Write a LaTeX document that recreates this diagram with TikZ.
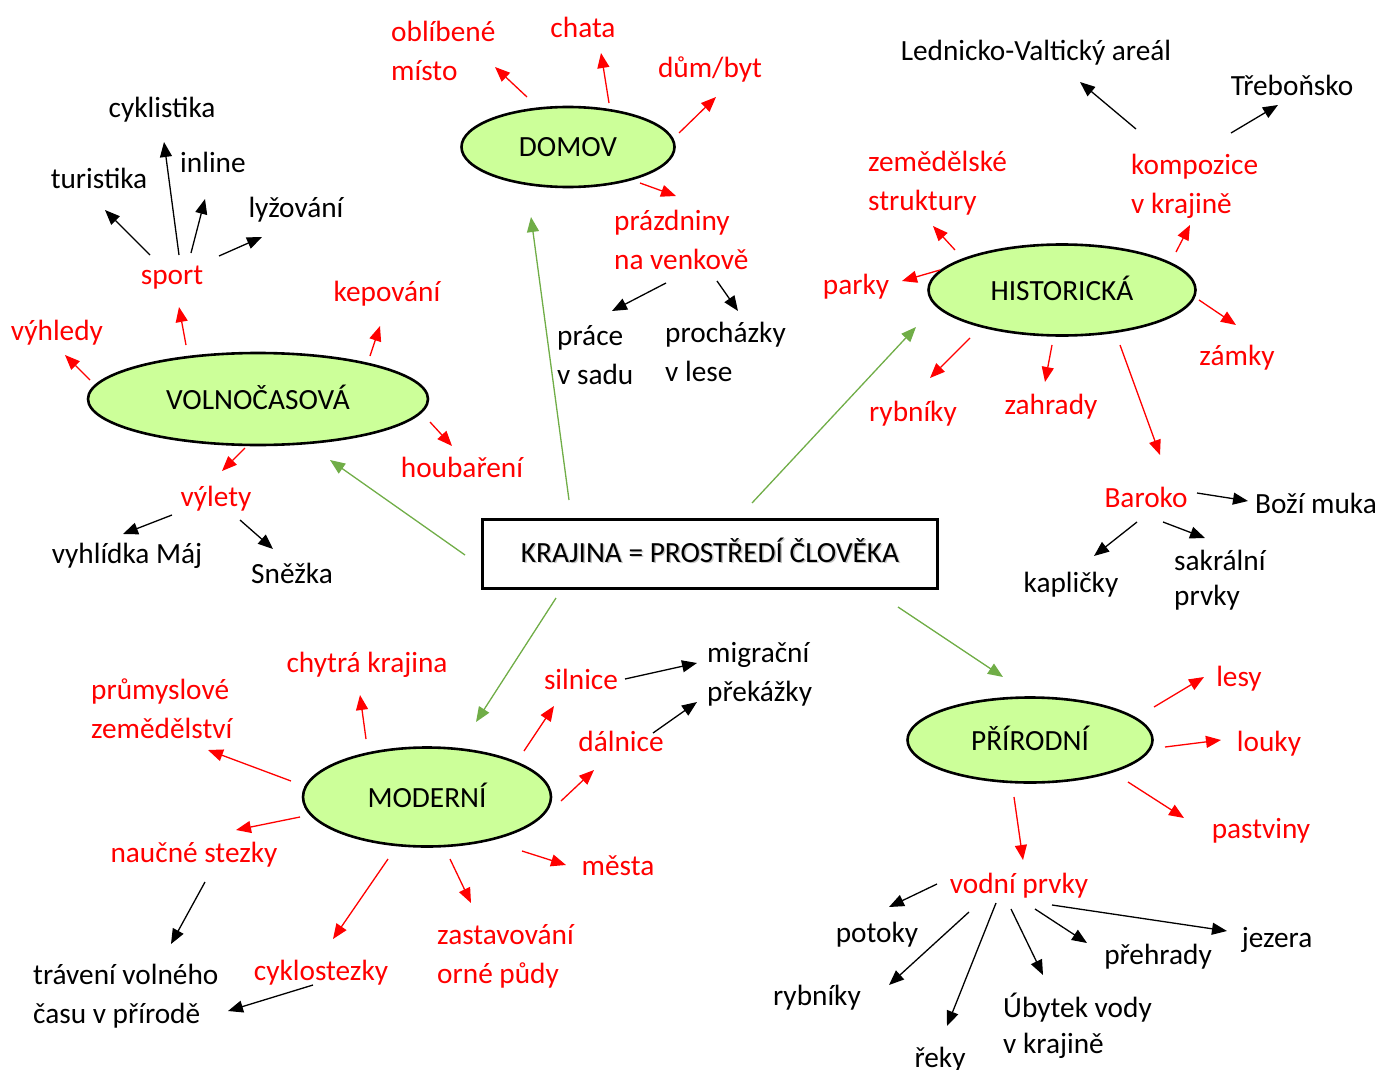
\documentclass[tikz,border=0pt]{standalone}
\usepackage{fontspec}
\setmainfont{Carlito}
\usetikzlibrary{arrows.meta,shapes.geometric,calc}
\definecolor{elfill}{HTML}{CCFF99}
\definecolor{grn}{HTML}{70AD47}
\definecolor{rd}{HTML}{FF0000}
\newcommand\lnk[5]{\draw[#1] ([shift={(#3)}]#2) -- ([shift={(#5)}]#4);}
\begin{document}
\begin{tikzpicture}[x=1pt,y=-1pt,
  every node/.style={font=\fontsize{29.3}{39}\selectfont, inner sep=0pt, text height=23pt, text depth=3pt},
  el/.style={ellipse, draw=black, line width=2.6pt, fill=elfill, minimum width=#1},
  rt/.style={text=rd},
  bt/.style={text=black},
  ml/.style={align=left, anchor=west, text height=, text depth=},
  ra/.style={draw=rd, line width=1.3pt, -{Triangle[length=15pt,width=12pt]}},
  ba/.style={draw=black, line width=1.3pt, -{Triangle[length=15pt,width=12pt]}},
  ga/.style={draw=grn, line width=1.3pt, -{Triangle[length=15pt,width=12pt]}},
]
\useasboundingbox (0,0) rectangle (1381,1070);

% central box
\node[draw=black, line width=2.8pt, minimum width=455pt, minimum height=69pt, text height=, text depth=] (box) at (710,554) {};
\node[text=gray!45] at (711.5,553.5) {KRAJINA = PROSTŘEDÍ ČLOVĚKA};
\node (boxt) at (710,552) {KRAJINA = PROSTŘEDÍ ČLOVĚKA};

% ellipses
\node[el=213pt, minimum height=80pt] (domov) at (568,147) {DOMOV};
\node[el=340pt, minimum height=92pt] (volno) at (258,399) {VOLNOČASOVÁ};
\node[el=267pt, minimum height=91pt] (hist) at (1062,290) {HISTORICKÁ};
\node[el=248pt, minimum height=99pt] (mod) at (427,797) {MODERNÍ};
\node[el=245pt, minimum height=85pt] (prir) at (1030,740) {PŘÍRODNÍ};

% single-line text nodes
\node[rt] (chata) at (583,28) {chata};
\node[rt] (dum) at (710,68) {dům/byt};
\node[bt] (cyk) at (162,108) {cyklistika};
\node[bt] (inline) at (213,162) {inline};
\node[bt] (turist) at (99,178) {turistika};
\node[bt] (lyz) at (296,207) {lyžování};
\node[rt] (sport) at (172,274) {sport};
\node[rt] (kepo) at (387,291) {kepování};
\node[rt] (vyhl) at (57,330) {výhledy};
\node[rt] (houb) at (462,467) {houbaření};
\node[rt] (vylety) at (216,496) {výlety};
\node[bt] (maj) at (127,553) {vyhlídka Máj};
\node[bt] (snez) at (292,573) {Sněžka};
\node[bt] (lva) at (1036,51) {Lednicko-Valtický areál};
\node[bt] (treb) at (1292,86) {Třeboňsko};
\node[rt] (parky) at (856,284) {parky};
\node[rt] (zamky) at (1237,355) {zámky};
\node[rt] (rybh) at (913,411) {rybníky};
\node[rt] (zahr) at (1051,404) {zahrady};
\node[rt] (baroko) at (1146,497) {Baroko};
\node[bt] (bozi) at (1316,503) {Boží muka};
\node[bt] (kapl) at (1071,582) {kapličky};
\node[rt] (chytra) at (367,662) {chytrá krajina};
\node[rt] (silnice) at (581,679) {silnice};
\node[rt] (dalnice) at (621,741) {dálnice};
\node[rt] (mesta) at (618,865) {města};
\node[rt] (naucne) at (194,852) {naučné stezky};
\node[rt] (cykl) at (321,970) {cyklostezky};
\node[rt] (lesy) at (1239,676) {lesy};
\node[rt] (louky) at (1269,741) {louky};
\node[rt] (pastv) at (1261,828) {pastviny};
\node[rt] (vodni) at (1019,883) {vodní prvky};
\node[bt] (potoky) at (877,932) {potoky};
\node[bt] (rybp) at (817,995) {rybníky};
\node[bt] (reky) at (940,1057) {řeky};
\node[bt] (prehr) at (1158,954) {přehrady};
\node[bt] (jezera) at (1277,937) {jezera};

% two-line nodes
\node[rt,ml] (obl) at (391,50.5) {oblíbené\\místo};
\node[rt,ml] (prazd) at (614,239.5) {prázdniny\\na venkově};
\node[bt,ml] (prace) at (557,355.5) {práce\\v sadu};
\node[bt,ml] (proch) at (665,351.5) {procházky\\v lese};
\node[rt,ml] (zem) at (868,183.5) {zemědělské\\struktury};
\node[rt,ml] (komp) at (1131,186) {kompozice\\v krajině};
\node[bt,ml,font=\fontsize{29.3}{35}\selectfont] (sakr) at (1174,580.5) {sakrální\\prvky};
\node[rt,ml] (prum) at (91,708.5) {průmyslové\\zemědělství};
\node[bt,ml] (trav) at (33,996.5) {trávení volného\\času v přírodě};
\node[rt,ml] (zast) at (437,956.5) {zastavování\\orné půdy};
\node[bt,ml] (migr) at (707,674.5) {migrační\\překážky};
\node[bt,ml,font=\fontsize{29.3}{36}\selectfont] (ubyt) at (1003,1026) {Úbytek vody\\v krajině};

% DOMOV
\lnk{ra}{domov.center}{-41,-50}{obl.west}{104,16.5}
\lnk{ra}{domov.center}{41,-44}{chata.center}{18,25}
\lnk{ra}{domov.center}{111,-14}{dum.center}{6,29}
\lnk{ra}{domov.center}{72,36}{prazd.west}{62,-43.5}
\lnk{ba}{prazd.west}{52,43.5}{prace.west}{55,-44.5}
\lnk{ba}{prazd.west}{103,41.5}{proch.west}{73,-40.5}

% green
\lnk{ga}{box.center}{-141,-54}{domov.center}{-37,70}
\lnk{ga}{box.center}{-245,1}{volno.center}{72,61}
\lnk{ga}{box.center}{42,-51}{hist.center}{-146,37}
\lnk{ga}{box.center}{-154,44}{mod.center}{49,-75}
\lnk{ga}{box.center}{188,53}{prir.center}{-27,-63}

% VOLNOCASOVA
\lnk{ra}{volno.center}{-72,-54}{sport.center}{7,33}
\lnk{ba}{sport.center}{-22,-19}{turist.center}{6,32}
\lnk{ba}{sport.center}{7,-19}{cyk.center}{2,34}
\lnk{ba}{sport.center}{19,-21}{inline.center}{-8,37}
\lnk{ba}{sport.center}{47,-18}{lyz.center}{-34,30}
\lnk{ra}{volno.center}{-168,-19}{vyhl.center}{8,25}
\lnk{ra}{volno.center}{112,-43}{kepo.center}{-7,35}
\lnk{ra}{volno.center}{172,23}{houb.center}{-10,-21}
\lnk{ra}{volno.center}{-13,49}{vylety.center}{6,-25}
\lnk{ba}{vylety.center}{-44,19}{maj.center}{-4,-19}
\lnk{ba}{vylety.center}{24,24}{snez.center}{-19,-24}

% HISTORICKA
\lnk{ra}{hist.center}{-107,-40}{zem.west}{65,42.5}
\lnk{ra}{hist.center}{114,-38}{komp.west}{59,39}
\lnk{ba}{komp.west}{5,-57}{lva.center}{44,31}
\lnk{ba}{komp.west}{100,-53}{treb.center}{-14,19}
\lnk{ra}{hist.center}{-122,-20}{parky.center}{46,-3}
\lnk{ra}{hist.center}{137,10}{zamky.center}{-1,-30}
\lnk{ra}{hist.center}{-92,48}{rybh.center}{17,-33}
\lnk{ra}{hist.center}{-10,55}{zahr.center}{-6,-22}
\lnk{ra}{hist.center}{58,55}{baroko.center}{14,-42}
\lnk{ba}{baroko.center}{51,-4}{bozi.center}{-68,-2}
\lnk{ba}{baroko.center}{-9,25}{kapl.center}{23,-26}
\lnk{ba}{baroko.center}{17,25}{sakr.west}{31,-42.5}

% MODERNI
\lnk{ra}{mod.center}{-61,-58}{chytra.center}{-7,33}
\lnk{ra}{mod.center}{-136,-16}{prum.west}{117,41.5}
\lnk{ra}{mod.center}{-127,20}{naucne.center}{42,-22}
\lnk{ba}{naucne.center}{11,30}{trav.west}{138,-52.5}
\lnk{ra}{mod.center}{-39,62}{cykl.center}{12,-31}
\lnk{ba}{cykl.center}{-8,15}{trav.west}{195,14.5}
\lnk{ra}{mod.center}{23,62}{zast.west}{34,-53.5}
\lnk{ra}{mod.center}{95,54}{mesta.center}{-52,0}
\lnk{ra}{mod.center}{97,-46}{silnice.center}{-27,27}
\lnk{ra}{mod.center}{134,4}{dalnice.center}{-27,29}
\lnk{ba}{silnice.center}{44,0}{migr.west}{-10,-11.5}
\lnk{ba}{dalnice.center}{32,-8}{migr.west}{-10,27.5}

% PRIRODNI
\lnk{ra}{prir.center}{124,-33}{lesy.center}{-35,1}
\lnk{ra}{prir.center}{135,7}{louky.center}{-48,-1}
\lnk{ra}{prir.center}{98,42}{pastv.center}{-77,-10}
\lnk{ra}{prir.center}{-16,57}{vodni.center}{4,-23}
\lnk{ba}{vodni.center}{-82,1}{potoky.center}{12,-25}
\lnk{ba}{vodni.center}{-50,29}{rybp.center}{72,-10}
\lnk{ba}{vodni.center}{-23,20}{reky.center}{7,-31}
\lnk{ba}{vodni.center}{-8,26}{ubyt.west}{40,-51}
\lnk{ba}{vodni.center}{16,26}{prehr.center}{-71,-11}
\lnk{ba}{vodni.center}{33,22}{jezera.center}{-50,-6}
\end{tikzpicture}
\end{document}
